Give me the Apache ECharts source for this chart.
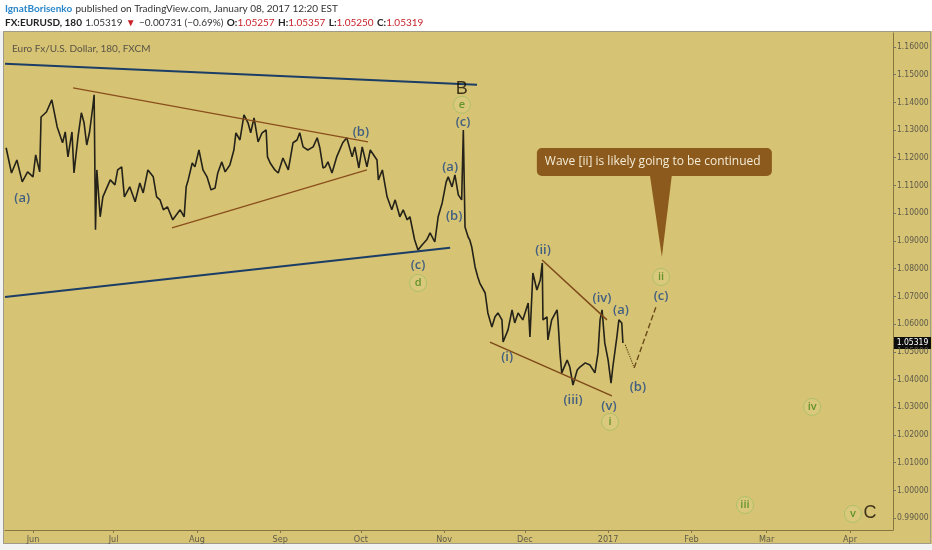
<!DOCTYPE html>
<html>
<head>
<meta charset="utf-8">
<title>EURUSD 180</title>
<script src="https://cdn.jsdelivr.net/npm/echarts@6.0.0/dist/echarts.min.js"></script>
<style>
  html, body { margin: 0; padding: 0; background: #ffffff; }
  #main { width: 932px; height: 550px; }
</style>
</head>
<body>
<div id="main"></div>
<script>
// price path (close, roughly)
const priceTimes = [
  '2016-05-22', '2016-05-24', '2016-05-26', '2016-05-28', '2016-05-30', '2016-06-01', '2016-06-02', '2016-06-03 12:00',
  '2016-06-04', '2016-06-06', '2016-06-08', '2016-06-10', '2016-06-12', '2016-06-13', '2016-06-14', '2016-06-15 12:00',
  '2016-06-16 06:00', '2016-06-17 18:00', '2016-06-19', '2016-06-20', '2016-06-21', '2016-06-22', '2016-06-23 06:00', '2016-06-23 18:00',
  '2016-06-24 06:00', '2016-06-24 18:00', '2016-06-26', '2016-06-27', '2016-06-29 18:00', '2016-07-01 12:00', '2016-07-02 12:00', '2016-07-04',
  '2016-07-05', '2016-07-07', '2016-07-09', '2016-07-10 18:00', '2016-07-12', '2016-07-13 18:00', '2016-07-15 18:00', '2016-07-17',
  '2016-07-18 06:00', '2016-07-19 12:00', '2016-07-21', '2016-07-23', '2016-07-25 18:00', '2016-07-27 06:00', '2016-07-28', '2016-07-28 18:00',
  '2016-07-30 06:00', '2016-07-31 06:00', '2016-08-01 18:00', '2016-08-03 06:00', '2016-08-04 18:00', '2016-08-06 06:00', '2016-08-07 18:00', '2016-08-08 18:00',
  '2016-08-10 06:00', '2016-08-11 12:00', '2016-08-13 06:00', '2016-08-14 18:00', '2016-08-15 12:00', '2016-08-17', '2016-08-18 12:00', '2016-08-20',
  '2016-08-21', '2016-08-22 06:00', '2016-08-23 18:00', '2016-08-25 06:00', '2016-08-26 18:00', '2016-08-27 06:00', '2016-08-28 06:00', '2016-08-30',
  '2016-08-31 06:00', '2016-09-02', '2016-09-04', '2016-09-05 18:00', '2016-09-07 06:00', '2016-09-08 06:00', '2016-09-09 12:00', '2016-09-11 06:00',
  '2016-09-13 06:00', '2016-09-14 18:00', '2016-09-15 18:00', '2016-09-16 22:00', '2016-09-17 18:00', '2016-09-18 18:00', '2016-09-20 06:00', '2016-09-22',
  '2016-09-24 06:00', '2016-09-25 18:00', '2016-09-27 18:00', '2016-09-28 18:00', '2016-09-30 06:00', '2016-10-01 12:00', '2016-10-03 06:00', '2016-10-04 12:00',
  '2016-10-07', '2016-10-07 12:00', '2016-10-09', '2016-10-10 18:00', '2016-10-12 12:00', '2016-10-13 18:00', '2016-10-15 12:00', '2016-10-16 18:00',
  '2016-10-18 06:00', '2016-10-19 06:00', '2016-10-21', '2016-10-22 06:00', '2016-10-23 18:00', '2016-10-25 12:00', '2016-10-26 18:00', '2016-10-28 12:00',
  '2016-10-29 18:00', '2016-10-31 06:00', '2016-11-01 18:00', '2016-11-02 12:00', '2016-11-03 22:00', '2016-11-05', '2016-11-06 06:00', '2016-11-07 12:00',
  '2016-11-08 03:00', '2016-11-08 18:00', '2016-11-09 22:00', '2016-11-10 12:00', '2016-11-11 06:00', '2016-11-12 12:00', '2016-11-13 12:00', '2016-11-14 06:00',
  '2016-11-16 06:00', '2016-11-17 06:00', '2016-11-18 18:00', '2016-11-19 22:00', '2016-11-21', '2016-11-22 12:00', '2016-11-22 22:00', '2016-11-24 18:00',
  '2016-11-26 06:00', '2016-11-27 06:00', '2016-11-28 12:00', '2016-11-30 06:00', '2016-12-02 06:00', '2016-12-02 22:00', '2016-12-04', '2016-12-05 12:00',
  '2016-12-06 18:00', '2016-12-07 12:00', '2016-12-07 18:00', '2016-12-09 06:00', '2016-12-09 14:00', '2016-12-11', '2016-12-13', '2016-12-13 08:00',
  '2016-12-14 02:00', '2016-12-14 18:00', '2016-12-16 18:00', '2016-12-17 18:00', '2016-12-18 22:00', '2016-12-20 12:00', '2016-12-21 12:00', '2016-12-23 12:00',
  '2016-12-25 06:00', '2016-12-27 02:00', '2016-12-28 06:00', '2016-12-29', '2016-12-29 18:00', '2016-12-30 18:00', '2017-01-01', '2017-01-02 02:00',
  '2017-01-02 18:00', '2017-01-04 06:00', '2017-01-05', '2017-01-06 02:00', '2017-01-06 12:00'
];
const priceCloses = [
  1.1236, 1.1145, 1.1192, 1.1113, 1.1149, 1.1131, 1.1210, 1.1149,
  1.1347, 1.1365, 1.1409, 1.1311, 1.1254, 1.1293, 1.1203, 1.1293,
  1.1145, 1.1275, 1.1362, 1.1326, 1.1246, 1.1290, 1.1383, 1.1427,
  1.0940, 1.1156, 1.0987, 1.1059, 1.1120, 1.1102, 1.1156, 1.1167,
  1.1059, 1.1095, 1.1041, 1.1109, 1.1073, 1.1156, 1.1131, 1.1059,
  1.1048, 1.1012, 1.1023, 1.0976, 1.1012, 1.0987, 1.1095, 1.1120,
  1.1181, 1.1167, 1.1228, 1.1156, 1.1131, 1.1084, 1.1091, 1.1145,
  1.1185, 1.1149, 1.1174, 1.1228, 1.1290, 1.1264, 1.1355, 1.1326,
  1.1290, 1.1344, 1.1257, 1.1290, 1.1300, 1.1203, 1.1181, 1.1156,
  1.1145, 1.1199, 1.1156, 1.1254, 1.1264, 1.1290, 1.1239, 1.1228,
  1.1239, 1.1272, 1.1235, 1.1163, 1.1167, 1.1185, 1.1145, 1.1203,
  1.1254, 1.1272, 1.1203, 1.1239, 1.1163, 1.1239, 1.1167, 1.1228,
  1.1192, 1.1120, 1.1156, 1.1059, 1.1012, 1.1048, 1.0987, 1.1012,
  1.0976, 1.0987, 1.0904, 1.0867, 1.0885, 1.0904, 1.0929, 1.0896,
  1.0987, 1.1037, 1.1113, 1.1131, 1.1095, 1.1138, 1.1066, 1.1048,
  1.1300, 1.0950, 1.0914, 1.0904, 1.0878, 1.0806, 1.0770, 1.0748,
  1.0712, 1.0640, 1.0589, 1.0626, 1.0640, 1.0615, 1.0535, 1.0579,
  1.0651, 1.0604, 1.0640, 1.0615, 1.0676, 1.0553, 1.0784, 1.0723,
  1.0759, 1.0820, 1.0615, 1.0626, 1.0543, 1.0615, 1.0651, 1.0615,
  1.0496, 1.0424, 1.0470, 1.0445, 1.0380, 1.0434, 1.0445, 1.0460,
  1.0452, 1.0424, 1.0496, 1.0615, 1.0651, 1.0532, 1.0470, 1.0387,
  1.0445, 1.0553, 1.0615, 1.0604, 1.05319
];
const lastClose = 1.05319;

// axes
const monthTicks = ['2016-06-01', '2016-07-01', '2016-08-01', '2016-09-01', '2016-10-01', '2016-11-01',
  '2016-12-01', '2017-01-01', '2017-02-01', '2017-03-01', '2017-04-01'];
const monthNames = ['Jan', 'Feb', 'Mar', 'Apr', 'May', 'Jun', 'Jul', 'Aug', 'Sep', 'Oct', 'Nov', 'Dec'];
const priceTicks = [0.99, 1.00, 1.01, 1.02, 1.03, 1.04, 1.05, 1.06, 1.07, 1.08, 1.09,
  1.10, 1.11, 1.12, 1.13, 1.14, 1.15, 1.16];
const xStart = '2016-05-21 14:00';
const xEnd = '2017-04-17';

// drawings
const topChannel = [['2016-05-21 14:00', 1.1539], ['2016-11-13 05:00', 1.1463]];
const bottomChannel = [['2016-05-21 14:00', 1.0698], ['2016-11-03 05:00', 1.0875]];
const triangleUpper = [['2016-06-15 22:00', 1.1452], ['2016-10-03 16:00', 1.1257]];
const triangleLower = [['2016-07-22 17:00', 1.0947], ['2016-10-03 06:00', 1.1156]];
const wedgeUpper = [['2016-12-07 10:00', 1.0831], ['2016-12-31 14:00', 1.0615]];
const wedgeLower = [['2016-11-18 00:00', 1.0535], ['2017-01-02 10:00', 1.0341]];
const pathToB = [['2017-01-07 09:00', 1.0525], ['2017-01-10 17:00', 1.0442]];
const pathToC = [['2017-01-10 17:00', 1.0442], ['2017-01-18 22:00', 1.0665]];

const blueLabels = [
  ['2016-05-28 00:00', 1.1055, '(a)'],
  ['2016-10-01 00:00', 1.1293, '(b)'],
  ['2016-11-08 00:00', 1.1329, '(c)'],
  ['2016-11-03 05:00', 1.1167, '(a)'],
  ['2016-11-04 17:00', 1.0990, '(b)'],
  ['2016-10-22 07:00', 1.0813, '(c)'],
  ['2016-12-07 19:00', 1.0867, '(ii)'],
  ['2016-11-24 10:00', 1.0481, '(i)'],
  ['2016-12-29 17:00', 1.0694, '(iv)'],
  ['2017-01-05 19:00', 1.0651, '(a)'],
  ['2016-12-18 22:00', 1.0326, '(iii)'],
  ['2017-01-01 07:00', 1.0304, '(v)'],
  ['2017-01-12 02:00', 1.0373, '(b)'],
  ['2017-01-20 17:00', 1.0701, '(c)']
];
const greenLabels = [
  ['2016-11-07 14:00', 1.1391, 'e'],
  ['2016-10-22 07:00', 1.0748, 'd'],
  ['2017-01-01 17:00', 1.0247, 'i'],
  ['2017-01-20 17:00', 1.0770, 'ii'],
  ['2017-02-20 22:00', 0.9947, 'iii'],
  ['2017-03-17 22:00', 1.0301, 'iv'],
  ['2017-04-02 02:00', 0.9915, 'v']
];
const bigLabels = [
  ['2016-11-07 14:00', 1.1448, 'B'],
  ['2017-04-08 10:00', 0.9918, 'C']
];
const calloutTip = ['2017-01-21 00:00', 1.0842];
const calloutText = 'Wave [ii] is likely going to be continued';

// local-time parse so every series and tick agree
function ts(s) {
  const parts = s.split(' ');
  const d = parts[0].split('-').map(Number);
  const t = (parts[1] || '00:00').split(':').map(Number);
  return new Date(d[0], d[1] - 1, d[2], t[0], t[1]).getTime();
}
const pts = arr => arr.map(p => [ts(p[0]), p[1]]);

const narrow = "'Liberation Sans Narrow', 'DejaVu Sans Condensed', sans-serif";
const bg = '#d6c374';

function segment(name, coords, color, width, type) {
  return {
    name: name,
    type: 'line',
    data: pts(coords),
    showSymbol: false,
    silent: true,
    z: 4,
    lineStyle: { color: color, width: width, type: type || 'solid' }
  };
}

function labelSeries(name, rows, labelStyle, symbolStyle) {
  return Object.assign({
    name: name,
    type: 'scatter',
    silent: true,
    z: 6,
    data: rows.map(r => [ts(r[0]), r[1], r[2]]),
    symbolSize: 1,
    itemStyle: { color: 'rgba(0,0,0,0)' },
    label: Object.assign({
      show: true,
      position: 'inside',
      textBorderWidth: 0,
      textBorderColor: 'transparent',
      formatter: p => p.value[2]
    }, labelStyle)
  }, symbolStyle || {});
}

const chart = echarts.init(document.getElementById('main'));

const option = {
  backgroundColor: bg,
  animation: false,
  grid: { left: 5, right: 39, top: 33, bottom: 20 },
  xAxis: {
    type: 'value',
    min: ts(xStart),
    max: ts(xEnd),
    axisLine: { show: true, lineStyle: { color: '#857541', width: 1 } },
    axisTick: { show: true, length: 3, lineStyle: { color: '#857541' }, customValues: monthTicks.map(ts) },
    splitLine: { show: false },
    axisLabel: {
      customValues: monthTicks.map(ts),
      fontFamily: narrow,
      fontSize: 9,
      color: '#5e5a4a',
      margin: 5,
      formatter: v => {
        const d = new Date(v);
        return d.getMonth() === 0 ? String(d.getFullYear()) : monthNames[d.getMonth()];
      }
    }
  },
  yAxis: {
    type: 'value',
    position: 'right',
    min: 0.9857,
    max: 1.1650,
    axisLine: { show: true, lineStyle: { color: '#857541', width: 1 } },
    axisTick: { show: true, length: 3, lineStyle: { color: '#7a7560' }, customValues: priceTicks },
    splitLine: { show: false },
    axisLabel: {
      customValues: priceTicks,
      fontFamily: narrow,
      fontSize: 8.5,
      color: '#5e5a4a',
      margin: 4,
      formatter: v => v.toFixed(5)
    }
  },
  graphic: [
    {
      type: 'rect', silent: true,
      shape: { x: 0, y: 0, width: 932, height: 31 },
      style: { fill: '#ffffff' }
    },
    {
      type: 'rect', silent: true,
      shape: { x: 0, y: 544, width: 932, height: 6 },
      style: { fill: '#f2f4f4' }
    },
    {
      type: 'rect', silent: true,
      shape: { x: 0, y: 31, width: 3, height: 513 },
      style: { fill: '#f2f4f4' }
    },
    {
      type: 'rect', silent: true,
      shape: { x: 3.5, y: 31.5, width: 927, height: 512 },
      style: { fill: 'none', stroke: '#a09a88', lineWidth: 1 }
    },
    {
      type: 'text', left: 5, top: 3, silent: true,
      style: {
        text: '{u|IgnatBorisenko} {t|published on TradingView.com, January 08, 2017 12:20 EST}',
        rich: {
          u: { fontFamily: 'Lato', fontSize: 10, fontWeight: 'bold', fill: '#2a86c8' },
          t: { fontFamily: 'Lato', fontSize: 10, fill: '#333333' }
        }
      }
    },
    {
      type: 'text', left: 5, top: 17, silent: true,
      style: {
        text: '{b|FX:EURUSD, 180} {t|1.05319} {r|\u25BC} {t|\u22120.00731 (\u22120.69%)} {b|O:}{r|1.05257} {b|H:}{r|1.05357} {b|L:}{r|1.05250} {b|C:}{r|1.05319}',
        rich: {
          b: { fontFamily: 'Lato', fontSize: 10, fontWeight: 'bold', fill: '#222222' },
          t: { fontFamily: 'Lato', fontSize: 10, fill: '#333333' },
          r: { fontFamily: 'Lato', fontSize: 10, fill: '#c8232c' }
        }
      }
    },
    {
      type: 'text', left: 12, top: 44, silent: true,
      style: { text: 'Euro Fx/U.S. Dollar, 180, FXCM', fontFamily: 'Lato', fontSize: 10, fill: '#5a5446' }
    }
  ],
  series: [
    {
      name: 'EURUSD',
      type: 'line',
      data: priceTimes.map((t, i) => [ts(t), priceCloses[i]]),
      showSymbol: false,
      silent: true,
      z: 3,
      lineStyle: { color: '#242219', width: 1.6 }
    },
    segment('top channel', topChannel, '#1c3d66', 2),
    segment('bottom channel', bottomChannel, '#1c3d66', 2),
    segment('triangle upper', triangleUpper, '#8a4e1c', 1.3),
    segment('triangle lower', triangleLower, '#8a4e1c', 1.3),
    segment('wedge upper', wedgeUpper, '#7e4a1a', 1.5),
    segment('wedge lower', wedgeLower, '#7e4a1a', 1.5),
    segment('to (b)', pathToB, '#6a4a18', 1.2, 'dotted'),
    segment('to (c)', pathToC, '#6a4a18', 1.4, 'dashed'),
    labelSeries('blue waves', blueLabels, { color: '#1b4683', fontFamily: 'Open Sans', fontSize: 13, fontWeight: 600 }),
    labelSeries('green waves', greenLabels,
      { color: '#478416', fontFamily: 'Open Sans', fontSize: 11, fontWeight: 600 },
      { symbolSize: 17, itemStyle: { color: 'rgba(230,220,150,0.35)', borderColor: '#a3bf63', borderWidth: 1 } }),
    labelSeries('degree', bigLabels, { color: '#170e03', fontFamily: 'Liberation Sans', fontSize: 18 })
  ]
};
chart.setOption(option);

// callout bubble and last price tag anchored on chart values, then redraw
const tip = chart.convertToPixel({ gridIndex: 0 }, [ts(calloutTip[0]), calloutTip[1]]);
const lastY = chart.convertToPixel({ yAxisIndex: 0 }, lastClose);
option.graphic.push({
  type: 'group', silent: true, z: 20,
  children: [
    {
      type: 'polygon',
      shape: { points: [[tip[0], tip[1]], [tip[0] - 12, tip[1] - 82], [tip[0] + 10, tip[1] - 82]] },
      style: { fill: '#8c5a1c' }
    },
    {
      type: 'rect',
      shape: { x: tip[0] - 125, y: tip[1] - 109, width: 235, height: 28, r: 5 },
      style: { fill: '#8c5a1c' }
    },
    {
      type: 'text',
      x: tip[0] - 117, y: tip[1] - 95,
      style: { text: calloutText, fontFamily: 'Open Sans', fontSize: 12, fill: '#f4ecd6', verticalAlign: 'middle' }
    }
  ]
}, {
  type: 'group', silent: true, z: 20,
  children: [
    {
      type: 'rect',
      shape: { x: 894, y: lastY - 6, width: 37, height: 12 },
      style: { fill: '#0d0d0d' }
    },
    {
      type: 'text',
      x: 912.5, y: lastY,
      style: { text: lastClose.toFixed(5), fontFamily: narrow, fontSize: 8.5, fill: '#ffffff', align: 'center', verticalAlign: 'middle' }
    }
  ]
});
chart.setOption(option, true);
</script>
</body>
</html>
